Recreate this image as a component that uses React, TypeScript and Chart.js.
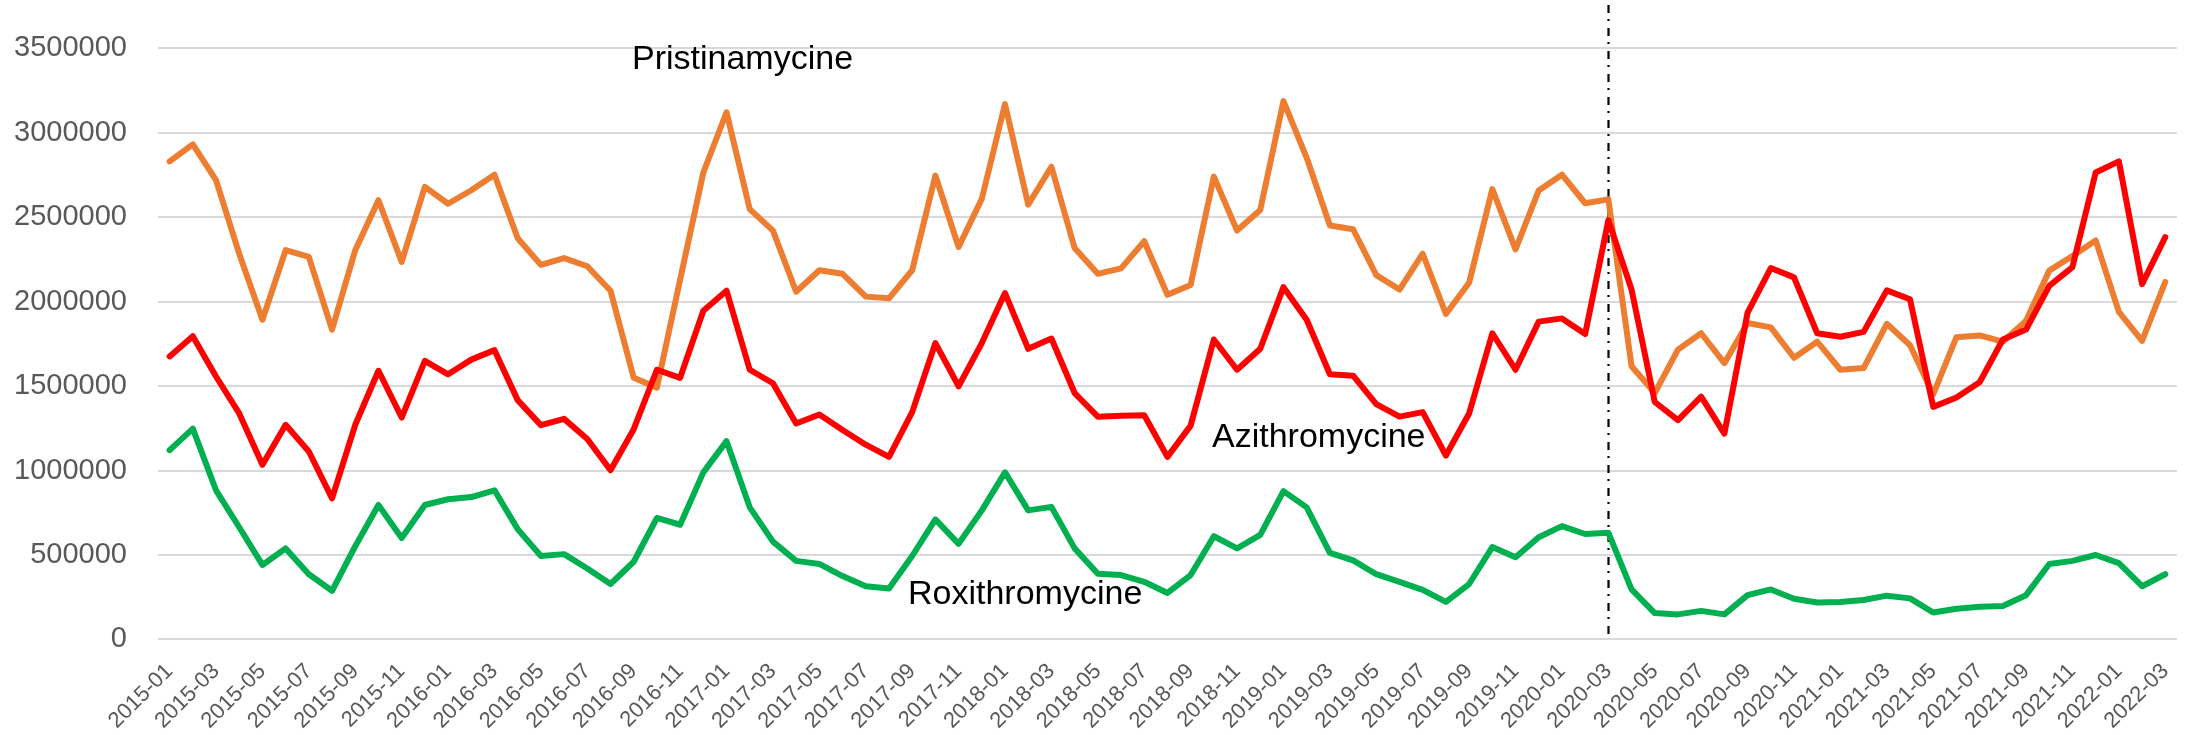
import React, { useEffect, useRef } from "react";
import { Chart, registerables } from "chart.js";

Chart.register(...registerables);

const years = [2015, 2016, 2017, 2018, 2019, 2020, 2021, 2022];
const months = ["01", "02", "03", "04", "05", "06", "07", "08", "09", "10", "11", "12"];
const categories: string[] = [];
for (const y of years) {
  for (const m of months) {
    if (y === 2022 && Number(m) > 3) break;
    categories.push(`${y}-${m}`);
  }
}

const pristinamycine = [
  2831000, 2932000, 2720000, 2284000, 1893000, 2305000, 2265000, 1835000, 2305000, 2601000,
  2236000, 2680000, 2580000, 2660000, 2752000, 2376000, 2218000, 2258000, 2210000, 2065000,
  1549000, 1491000, 2130000, 2765000, 3122000, 2548000, 2421000, 2059000, 2186000, 2165000,
  2030000, 2020000, 2186000, 2747000, 2324000, 2609000, 3170000, 2575000, 2799000, 2318000,
  2165000, 2197000, 2358000, 2041000, 2099000, 2741000, 2421000, 2543000, 3188000, 2852000,
  2451000, 2429000, 2157000, 2072000, 2284000, 1927000, 2112000, 2667000, 2310000, 2659000,
  2752000, 2583000, 2606000, 1618000, 1459000, 1716000, 1813000, 1636000, 1874000, 1848000,
  1668000, 1763000, 1597000, 1607000, 1869000, 1742000, 1451000, 1790000, 1800000, 1763000,
  1887000, 2184000, 2271000, 2363000, 1940000, 1768000, 2117000,
];

const azithromycine = [
  1676000, 1795000, 1557000, 1338000, 1034000, 1271000, 1113000, 835000, 1271000, 1591000,
  1314000, 1650000, 1570000, 1657000, 1713000, 1417000, 1269000, 1306000, 1187000, 1002000,
  1245000, 1597000, 1549000, 1946000, 2065000, 1597000, 1517000, 1279000, 1332000, 1240000,
  1153000, 1081000, 1346000, 1755000, 1499000, 1755000, 2051000, 1721000, 1782000, 1459000,
  1319000, 1324000, 1327000, 1081000, 1266000, 1776000, 1597000, 1721000, 2086000, 1893000,
  1570000, 1562000, 1393000, 1319000, 1346000, 1089000, 1338000, 1813000, 1597000, 1882000,
  1901000, 1808000, 2482000, 2072000, 1406000, 1298000, 1438000, 1219000, 1935000, 2199000,
  2144000, 1813000, 1792000, 1821000, 2067000, 2014000, 1377000, 1433000, 1523000, 1776000,
  1835000, 2094000, 2205000, 2765000, 2831000, 2104000, 2382000,
];

const roxithromycine = [
  1121000, 1248000, 883000, 664000, 441000, 539000, 386000, 288000, 552000, 796000,
  600000, 796000, 830000, 843000, 883000, 653000, 494000, 505000, 420000, 328000,
  460000, 719000, 679000, 989000, 1174000, 782000, 579000, 465000, 447000, 375000,
  315000, 301000, 494000, 711000, 566000, 764000, 989000, 764000, 785000, 539000,
  389000, 381000, 341000, 275000, 381000, 611000, 539000, 619000, 878000, 782000,
  513000, 468000, 386000, 341000, 293000, 222000, 328000, 547000, 486000, 605000,
  671000, 624000, 632000, 296000, 156000, 148000, 169000, 148000, 262000, 296000,
  241000, 219000, 222000, 233000, 259000, 243000, 159000, 182000, 193000, 198000,
  262000, 447000, 465000, 500000, 452000, 315000, 386000,
];

const yTicks = [0, 500000, 1000000, 1500000, 2000000, 2500000, 3000000, 3500000];
const markerCategory = "2020-03";

const seriesLabels = [
  { text: "Pristinamycine", x: 632, y: 69 },
  { text: "Azithromycine", x: 1212, y: 447 },
  { text: "Roxithromycine", x: 908, y: 604 },
];

const W = 2203;
const H = 735;

const overlayPlugin = {
  id: "overlay",
  beforeDatasetsDraw(chart: any) {
    const { ctx, chartArea, scales } = chart;
    const idx = categories.indexOf(markerCategory);
    const x = Math.round(scales.x.getPixelForValue(idx)) + 0.5;
    ctx.save();
    ctx.strokeStyle = "#000000";
    ctx.lineWidth = 2.2;
    ctx.setLineDash([8, 6, 2, 7]);
    ctx.beginPath();
    ctx.moveTo(x, 5);
    ctx.lineTo(x, chartArea.bottom - 2);
    ctx.stroke();
    ctx.restore();
  },
  afterDatasetsDraw(chart: any) {
    const { ctx } = chart;
    ctx.save();
    ctx.fillStyle = "#000000";
    ctx.font = "34px 'Liberation Sans', Arial, sans-serif";
    ctx.textAlign = "left";
    ctx.textBaseline = "alphabetic";
    for (const l of seriesLabels) ctx.fillText(l.text, l.x, l.y);
    ctx.restore();
  },
};

const lineStyle = {
  borderWidth: 6,
  pointRadius: 0,
  tension: 0,
  borderJoinStyle: "round" as const,
  borderCapStyle: "round" as const,
};

export default function App() {
  const ref = useRef<HTMLCanvasElement | null>(null);

  useEffect(() => {
    document.body.style.margin = "0";
    document.body.style.overflow = "hidden";
    const canvas = ref.current;
    if (!canvas) return;
    Chart.defaults.font.family = "'Liberation Sans', Arial, sans-serif";
    const chart = new Chart(canvas, {
      type: "line",
      data: {
        labels: categories,
        datasets: [
          {
            label: "Azithromycine",
            data: azithromycine,
            borderColor: "#FF0000",
            backgroundColor: "#FF0000",
            ...lineStyle,
          },
          {
            label: "Pristinamycine",
            data: pristinamycine,
            borderColor: "#ED7D31",
            backgroundColor: "#ED7D31",
            ...lineStyle,
          },
          {
            label: "Roxithromycine",
            data: roxithromycine,
            borderColor: "#00B050",
            backgroundColor: "#00B050",
            ...lineStyle,
          },
        ],
      },
      options: {
        animation: false,
        responsive: false,
        devicePixelRatio: 1,
        layout: { padding: { left: 0, right: 8, top: 19, bottom: 0 } },
        plugins: {
          legend: { display: false },
          tooltip: { enabled: false },
        },
        scales: {
          x: {
            type: "category",
            offset: true,
            grid: { display: false, drawTicks: false },
            border: { display: false },
            ticks: {
              autoSkip: false,
              minRotation: 45,
              maxRotation: 45,
              padding: 19,
              color: "#595959",
              font: { size: 22 },
              callback: (_v: any, i: number) => (i % 2 === 0 ? categories[i] : ""),
            },
            afterFit: (s: any) => {
              s.height = 95.6;
            },
          },
          y: {
            min: yTicks[0],
            max: yTicks[yTicks.length - 1],
            grid: { color: "#D9D9D9", lineWidth: 2, drawTicks: false },
            border: { display: false },
            ticks: {
              stepSize: yTicks[1] - yTicks[0],
              padding: 31,
              color: "#595959",
              font: { size: 29 },
              callback: (v: any) => String(v),
            },
            afterFit: (s: any) => {
              s.width = 158;
            },
          },
        },
      },
      plugins: [overlayPlugin],
    });
    return () => chart.destroy();
  }, []);

  return (
    <div style={{ width: W, height: H }}>
      <canvas ref={ref} width={W} height={H} style={{ width: W, height: H, display: "block" }} />
    </div>
  );
}
